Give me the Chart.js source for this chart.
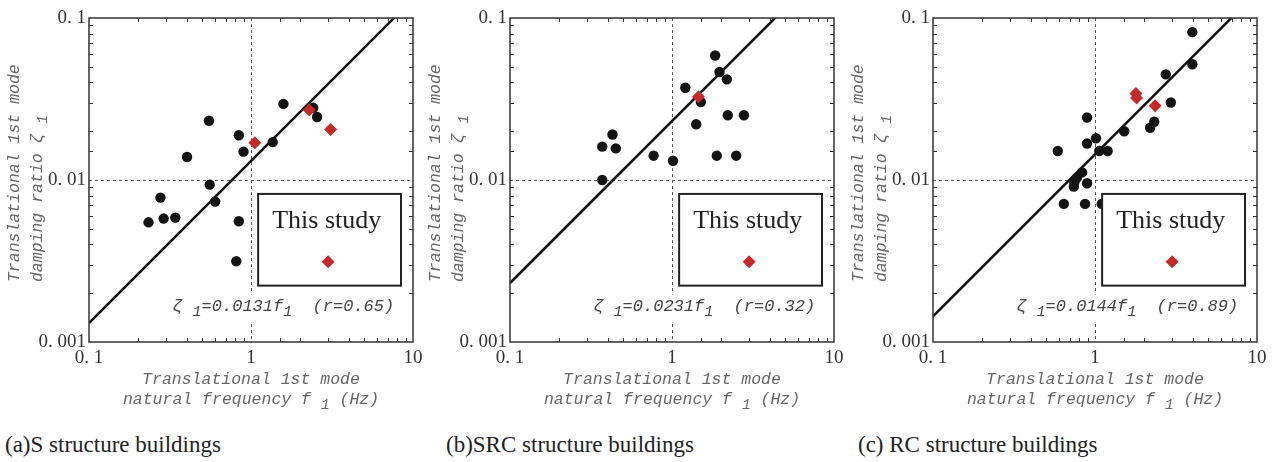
<!DOCTYPE html>
<html>
<head>
<meta charset="utf-8">
<script src="https://cdn.jsdelivr.net/npm/chart.js@4.4.1/dist/chart.umd.min.js"></script>
<style>
  body { margin: 0; background: #fff; width: 1277px; height: 462px; overflow: hidden; position: relative; }
  .panel { position: absolute; top: 0; width: 425px; height: 420px; }
  .caption { position: absolute; top: 432px; font-family: 'Liberation Serif', serif; font-size: 23px; color: #222; white-space: nowrap; }
</style>
</head>
<body>
<div class="panel" style="left:0px"><canvas id="chartS" width="425" height="420"></canvas></div>
<div class="panel" style="left:421px"><canvas id="chartSRC" width="425" height="420"></canvas></div>
<div class="panel" style="left:844px"><canvas id="chartRC" width="425" height="420"></canvas></div>
<div class="caption" style="left:5px">(a)S structure buildings</div>
<div class="caption" style="left:446px">(b)SRC structure buildings</div>
<div class="caption" style="left:858px">(c) RC structure buildings</div>
<script>
// decade tick values and their labels
const xTickValues = [0.1, 1, 10];
const xTickLabels = ['0. 1', '1', '10'];
const yTickValues = [0.001, 0.01, 0.1];
const yTickLabels = ['0. 001', '0. 01', '0. 1'];

// (a) S structure: frequency f1 (Hz) and damping ratio
const sFreq = [0.233, 0.276, 0.289, 0.341, 0.403, 0.55, 0.556, 0.601, 0.841, 0.899, 0.841, 0.811, 1.362, 1.585, 2.42, 2.56];
const sDamp = [0.00548, 0.00778, 0.00578, 0.00586, 0.01386, 0.0232, 0.00936, 0.00736, 0.0189, 0.01496, 0.00556, 0.00315, 0.01714, 0.0295, 0.0279, 0.0245];
const sStudyFreq = [1.056, 2.29, 3.10];
const sStudyDamp = [0.0170, 0.0270, 0.0205];
const sCoef = 0.0131, sR = 0.65;

// (b) SRC structure
const srcFreq = [0.371, 0.371, 0.429, 0.45, 0.77, 1.014, 1.208, 1.41, 1.507, 1.846, 1.964, 2.18, 2.21, 2.78, 1.89, 2.49];
const srcDamp = [0.0100, 0.01606, 0.0191, 0.01567, 0.01413, 0.01315, 0.0371, 0.0221, 0.0303, 0.0587, 0.0464, 0.0418, 0.0251, 0.0251, 0.01413, 0.01413];
const srcStudyFreq = [1.458];
const srcStudyDamp = [0.0326];
const srcCoef = 0.0231, srcR = 0.32;

// (c) RC structure
const rcFreq = [3.99, 3.99, 2.735, 2.94, 2.32, 2.19, 1.515, 0.893, 1.014, 0.893, 1.063, 1.197, 0.589, 0.832, 0.775, 0.746, 0.74, 0.893, 0.642, 0.868, 1.1];
const rcDamp = [0.0818, 0.0518, 0.0449, 0.0301, 0.0229, 0.021, 0.02, 0.0243, 0.0181, 0.0168, 0.0151, 0.0151, 0.0151, 0.01114, 0.01035, 0.00968, 0.0091, 0.00955, 0.00712, 0.00712, 0.00712];
const rcStudyFreq = [1.79, 1.805, 2.35];
const rcStudyDamp = [0.0342, 0.0321, 0.0287];
const rcCoef = 0.0144, rcR = 0.89;

const RED = '#c42a2a';
const DOT = '#141414';
const MONO = '"Liberation Mono", "DejaVu Sans Mono", monospace';

function isDecade(v) {
  const l = Math.log10(v);
  return Math.abs(l - Math.round(l)) < 1e-6;
}

// draws text pieces where some are lowered subscripts; optional white backing
function drawRuns(ctx, parts, x, y, align, size, backing) {
  const main = `italic ${size}px ${MONO}`;
  const sub = `italic ${size - 2}px ${MONO}`;
  let total = 0;
  parts.forEach(p => { ctx.font = p[1] ? sub : main; total += ctx.measureText(p[0]).width; });
  let cx = align === 'center' ? x - total / 2 : align === 'right' ? x - total : x;
  if (backing) {
    const keep = ctx.fillStyle;
    ctx.fillStyle = '#fff';
    ctx.fillRect(cx - 2, y - size * 0.7, total + 4, size * 1.6);
    ctx.fillStyle = keep;
  }
  ctx.textAlign = 'left';
  ctx.textBaseline = 'middle';
  parts.forEach(p => {
    ctx.font = p[1] ? sub : main;
    ctx.fillText(p[0], cx, p[1] ? y + size * 0.32 : y);
    cx += ctx.measureText(p[0]).width;
  });
}

const framePlugin = {
  id: 'frame',
  beforeDatasetsDraw(chart) {
    const { ctx, chartArea: a, scales: { x, y } } = chart;
    ctx.save();
    ctx.strokeStyle = '#555';
    ctx.lineWidth = 1;
    ctx.setLineDash([3, 3]);
    const px = Math.round(x.getPixelForValue(1)) + 0.5;
    const py = Math.round(y.getPixelForValue(0.01)) + 0.5;
    ctx.beginPath();
    ctx.moveTo(px, a.top); ctx.lineTo(px, a.bottom);
    ctx.moveTo(a.left, py); ctx.lineTo(a.right, py);
    ctx.stroke();
    ctx.restore();
  },
  afterDraw(chart, args, opts) {
    const { ctx, chartArea: a, scales: { x, y } } = chart;
    const w = a.right - a.left, h = a.bottom - a.top;
    ctx.save();

    // legend box
    const bx = a.left + 0.522 * w, by = a.top + 0.543 * h;
    const bw = 0.441 * w, bh = 0.283 * h;
    ctx.fillStyle = '#fff';
    ctx.fillRect(bx, by, bw, bh);
    ctx.strokeStyle = '#222';
    ctx.lineWidth = 2;
    ctx.strokeRect(bx, by, bw, bh);
    ctx.fillStyle = '#222';
    ctx.font = '26px "Liberation Serif", serif';
    ctx.textAlign = 'center';
    ctx.textBaseline = 'middle';
    ctx.fillText('This study', bx + bw * 0.48, by + bh * 0.3);
    ctx.fillStyle = RED;
    ctx.beginPath();
    const dx = bx + bw * 0.49, dy = by + bh * 0.74;
    ctx.moveTo(dx - 6.5, dy); ctx.lineTo(dx, dy - 6.5); ctx.lineTo(dx + 6.5, dy); ctx.lineTo(dx, dy + 6.5);
    ctx.closePath();
    ctx.fill();

    // regression equation
    ctx.fillStyle = '#444';
    drawRuns(ctx, [['ζ '], ['1', true], ['=' + opts.coef.toFixed(4) + 'f'], ['1', true], ['  (r=' + opts.r.toFixed(2) + ')']],
      a.left + 0.942 * w, a.top + 0.89 * h, 'right', 17, true);

    // plot frame
    ctx.strokeStyle = '#333';
    ctx.lineWidth = 1.5;
    ctx.strokeRect(a.left, a.top, w, h);

    // inward minor ticks on all four sides
    ctx.lineWidth = 1;
    ctx.beginPath();
    x.ticks.forEach(t => {
      if (isDecade(t.value)) return;
      const p = Math.round(x.getPixelForValue(t.value)) + 0.5;
      ctx.moveTo(p, a.top); ctx.lineTo(p, a.top + 4);
      ctx.moveTo(p, a.bottom); ctx.lineTo(p, a.bottom - 4);
    });
    y.ticks.forEach(t => {
      if (isDecade(t.value)) return;
      const p = Math.round(y.getPixelForValue(t.value)) + 0.5;
      ctx.moveTo(a.left, p); ctx.lineTo(a.left + 4, p);
      ctx.moveTo(a.right, p); ctx.lineTo(a.right - 4, p);
    });
    ctx.stroke();

    // axis titles
    ctx.fillStyle = '#666';
    const cx = (a.left + a.right) / 2;
    drawRuns(ctx, [['Translational 1st mode']], cx, a.bottom + 38, 'center', 16.5);
    drawRuns(ctx, [['natural frequency f '], ['1', true], [' (Hz)']], cx, a.bottom + 58, 'center', 16.5);
    const ys = a.top + 0.815 * h;
    ctx.save();
    ctx.translate(a.left - 74, ys);
    ctx.rotate(-Math.PI / 2);
    drawRuns(ctx, [['Translational 1st mode']], 0, 0, 'left', 16.5);
    ctx.restore();
    ctx.save();
    ctx.translate(a.left - 51, ys);
    ctx.rotate(-Math.PI / 2);
    drawRuns(ctx, [['damping ratio ζ '], ['1', true]], 0, 0, 'left', 16.5);
    ctx.restore();

    ctx.restore();
  }
};

function toPoints(xs, ys) {
  return xs.map((v, i) => ({ x: v, y: ys[i] }));
}

function makeChart(id, freq, damp, studyFreq, studyDamp, coef, r) {
  return new Chart(document.getElementById(id), {
    type: 'scatter',
    data: {
      datasets: [
        {
          label: 'This study',
          data: toPoints(studyFreq, studyDamp),
          pointStyle: 'rectRot',
          pointRadius: 6.5,
          backgroundColor: RED,
          borderWidth: 0
        },
        {
          label: 'Buildings',
          data: toPoints(freq, damp),
          pointStyle: 'circle',
          pointRadius: 5.2,
          backgroundColor: DOT,
          borderWidth: 0
        },
        {
          type: 'line',
          label: 'Fit',
          data: [{ x: 0.1, y: coef * 0.1 }, { x: 10, y: coef * 10 }],
          borderColor: '#111',
          borderWidth: 2.5,
          pointRadius: 0,
          fill: false,
          tension: 0
        }
      ]
    },
    options: {
      responsive: false,
      animation: false,
      events: [],
      layout: { padding: { top: 18, right: 12, left: 0, bottom: 0 } },
      plugins: {
        legend: { display: false },
        tooltip: { enabled: false },
        frame: { coef: coef, r: r }
      },
      scales: {
        x: {
          type: 'logarithmic',
          min: 0.1,
          max: 10,
          grid: { display: false, drawTicks: false },
          border: { display: false },
          afterFit: s => { s.height = 78; s.paddingLeft = 0; s.paddingRight = 0; },
          ticks: {
            autoSkip: false,
            maxRotation: 0,
            padding: 5,
            color: '#333',
            font: { family: '"Liberation Serif", serif', size: 19 },
            callback: v => {
              const i = xTickValues.findIndex(d => Math.abs(d - v) / d < 1e-6);
              return i >= 0 ? xTickLabels[i] : '';
            }
          }
        },
        y: {
          type: 'logarithmic',
          min: 0.001,
          max: 0.1,
          grid: { display: false, drawTicks: false },
          border: { display: false },
          afterFit: s => { s.width = 89; s.paddingTop = 0; s.paddingBottom = 0; },
          ticks: {
            autoSkip: false,
            padding: 3,
            color: '#333',
            font: { family: '"Liberation Serif", serif', size: 19 },
            callback: v => {
              const i = yTickValues.findIndex(d => Math.abs(d - v) / d < 1e-6);
              return i >= 0 ? yTickLabels[i] : '';
            }
          }
        }
      }
    },
    plugins: [framePlugin]
  });
}

makeChart('chartS', sFreq, sDamp, sStudyFreq, sStudyDamp, sCoef, sR);
makeChart('chartSRC', srcFreq, srcDamp, srcStudyFreq, srcStudyDamp, srcCoef, srcR);
makeChart('chartRC', rcFreq, rcDamp, rcStudyFreq, rcStudyDamp, rcCoef, rcR);
</script>
</body>
</html>
